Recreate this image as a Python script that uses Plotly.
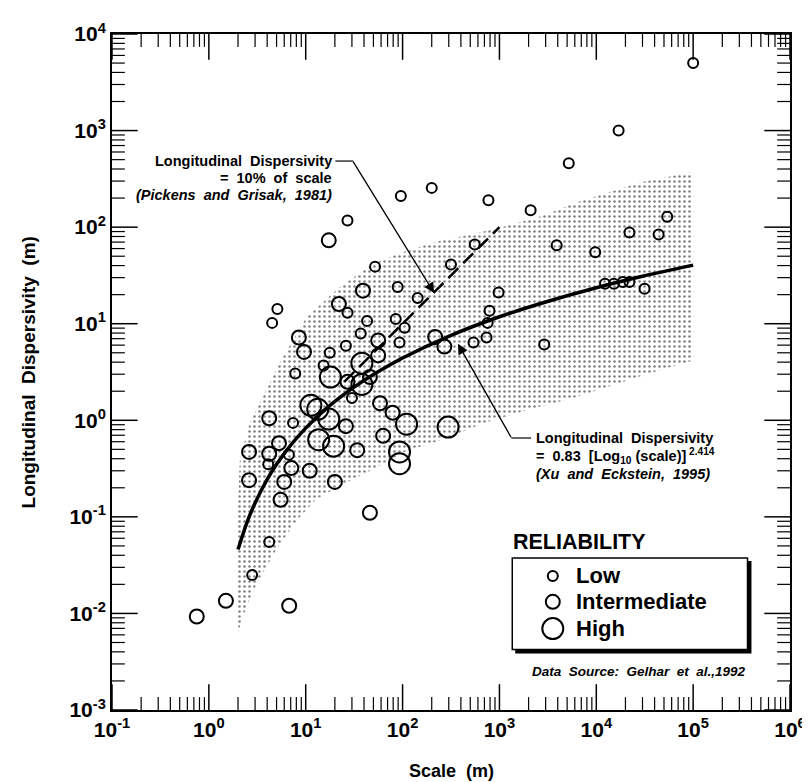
import math
import plotly.graph_objects as go

# ---------------- data ----------------
low_scale = [1e5, 17000, 5200, 2100, 770, 200, 96, 27, 52, 316, 556, 89, 143, 980, 27, 790, 755,
             5.1, 4.5, 43, 85, 105, 37, 93, 17.7, 26, 540, 736, 7.8, 15.3, 30, 7.4, 4.1, 6.7,
             4.2, 2.8, 3900, 9750, 22000, 44000, 54000, 12300, 15200, 18800, 22000, 31500, 2900]
low_disp = [5000, 1000, 460, 150, 190, 255, 210, 117, 39, 41, 66, 24, 18.5, 21, 13, 13.6, 10.2,
            14.2, 10.2, 10.7, 11.2, 9.1, 7.9, 6.4, 5.0, 5.9, 6.4, 7.2, 3.05, 3.7, 1.7, 0.94, 0.35, 0.44,
            0.055, 0.025, 65, 55, 88, 84, 128, 26, 26, 27, 27, 23, 6.1]

mid_scale = [17.3, 39, 22, 8.5, 9.6, 56, 56, 217, 270, 27, 46, 4.2, 58.5, 79, 26, 5.3, 2.6, 4.2,
             34, 63, 7.1, 11, 2.6, 6.0, 20, 5.5, 46, 1.5, 6.75, 0.75]
mid_disp = [73, 22, 16, 7.2, 5.1, 6.7, 4.7, 7.3, 5.8, 2.5, 2.8, 1.05, 1.5, 1.2, 0.87, 0.58, 0.47, 0.45,
            0.49, 0.69, 0.32, 0.30, 0.24, 0.23, 0.23, 0.15, 0.11, 0.0135, 0.012, 0.0093]

high_scale = [38, 18, 38, 11.3, 13.3, 17.3, 110, 295, 13.6, 19.4, 93, 93]
high_disp = [3.9, 2.8, 2.35, 1.43, 1.3, 1.03, 0.91, 0.85, 0.63, 0.54, 0.47, 0.355]

# Xu & Eckstein (1995) curve
xu_scale = [2, 2.5, 3, 4, 5, 7, 10, 15, 20, 30, 50, 100, 300, 1000, 3000, 1e4, 3e4, 1e5]
xu_disp = [0.046, 0.090, 0.139, 0.244, 0.35, 0.553, 0.83, 1.23, 1.57, 2.13, 2.98, 4.42, 7.41,
           11.8, 16.8, 23.6, 31.0, 40.4]

# Pickens & Grisak (1981) 10 % line
pg_scale = [25, 1000]
pg_disp = [2.5, 100]

# stippled envelope: upper edge (left->right) then lower edge (right->left)
env_upper_scale = [1.95, 1.95, 2.09, 2.64, 3.67, 5.34, 10.1, 21.9, 48.5, 105, 229, 508, 1100, 2820,
                   6120, 13600, 29500, 1e5]
env_upper_disp = [0.0059, 0.0745, 0.39, 0.935, 1.82, 3.87, 11.5, 23.4, 41.3, 56, 71, 84, 101, 131,
                  179, 232, 294, 373]
env_lower_scale = [1e5, 34800, 14600, 6120, 1890, 690, 289, 105, 48.5, 21.9, 12.7, 7.96, 4.98, 3.11,
                   2.46, 1.95]
env_lower_disp = [4.16, 3.05, 2.3, 1.73, 1.27, 0.935, 0.656, 0.471, 0.308, 0.206, 0.151, 0.09, 0.046,
                  0.0202, 0.012, 0.0059]

reliability = ["Low", "Intermediate", "High"]
marker_sizes = [10, 14, 21]

x_tickvals = [0.1, 1, 10, 100, 1e3, 1e4, 1e5, 1e6]
x_ticktext = ["<b>10<sup>-1</sup></b>", "<b>10<sup>0</sup></b>", "<b>10<sup>1</sup></b>", "<b>10<sup>2</sup></b>",
              "<b>10<sup>3</sup></b>", "<b>10<sup>4</sup></b>", "<b>10<sup>5</sup></b>", "<b>10<sup>6</sup></b>"]
y_tickvals = [1e-3, 1e-2, 0.1, 1, 10, 100, 1e3, 1e4]
y_ticktext = ["<b>10<sup>-3</sup></b>", "<b>10<sup>-2</sup></b>", "<b>10<sup>-1</sup></b>", "<b>10<sup>0</sup></b>",
              "<b>10<sup>1</sup></b>", "<b>10<sup>2</sup></b>", "<b>10<sup>3</sup></b>", "<b>10<sup>4</sup></b>"]
x_minor = [m * 10.0 ** k for k in range(-1, 6) for m in range(2, 10)]
y_minor = [m * 10.0 ** k for k in range(-3, 4) for m in range(2, 10)]
X_RANGE = [-1, 6]
Y_RANGE = [-3, 4]

# ---------------- layout geometry ----------------
W, H = 810, 782
ML, MR, MT, MB = 104, 20, 21, 80
PW, PH = W - ML - MR, H - MT - MB


def px(x):
    return (x - ML) / PW


def py(y):
    return (H - MB - y) / PH


FONT = "Liberation Sans, Arial, sans-serif"


def f(size):
    return dict(family=FONT, size=size, color="black")


fig = go.Figure()

# envelope
fig.add_trace(go.Scatter(
    x=env_upper_scale + env_lower_scale, y=env_upper_disp + env_lower_disp,
    mode="lines", line=dict(width=0, color="rgba(0,0,0,0)"), fill="toself",
    fillcolor="rgba(255,255,255,0)",
    fillpattern=dict(shape=".", size=5, solidity=0.2, fgcolor="black", bgcolor="rgba(0,0,0,0)"),
    hoverinfo="skip", showlegend=False))

# lines
fig.add_trace(go.Scatter(x=xu_scale, y=xu_disp, mode="lines", line=dict(color="black", width=3.5, shape="spline"),
                         showlegend=False))
fig.add_trace(go.Scatter(x=pg_scale, y=pg_disp, mode="lines", line=dict(color="black", width=2.5, dash="14px,7px"),
                         showlegend=False))

# data points
for xs, ys, s in [(low_scale, low_disp, marker_sizes[0]), (mid_scale, mid_disp, marker_sizes[1]),
                  (high_scale, high_disp, marker_sizes[2])]:
    fig.add_trace(go.Scatter(x=xs, y=ys, mode="markers",
                             marker=dict(symbol="circle-open", size=s, color="black", line=dict(width=2, color="black")),
                             showlegend=False))


def log_axis(vals, text, rng):
    return dict(type="log", range=rng, showgrid=False, zeroline=False, showline=True, linecolor="black",
                linewidth=2, mirror=True, ticks="", tickmode="array", tickvals=vals, ticktext=text,
                tickfont=f(21))


fig.update_layout(
    width=W, height=H, margin=dict(l=ML, r=MR, t=MT, b=MB),
    paper_bgcolor="white", plot_bgcolor="white", showlegend=False,
    xaxis=log_axis(x_tickvals, x_ticktext, X_RANGE),
    yaxis=log_axis(y_tickvals, y_ticktext, Y_RANGE),
)

shapes = []
# inside tick marks on all four sides (major and minor)
MAJ, MINL = 26, 13
for vals, length, width in [(x_tickvals, MAJ, 1.5), (x_minor, MINL, 1.2)]:
    for v in vals:
        xf = (math.log10(v) - X_RANGE[0]) / (X_RANGE[1] - X_RANGE[0])
        for y0, y1 in [(0, length / PH), (1 - length / PH, 1)]:
            shapes.append(dict(type="line", xref="paper", yref="paper", x0=xf, x1=xf, y0=y0, y1=y1,
                               line=dict(width=width, color="black")))
for vals, length, width in [(y_tickvals, MAJ, 1.5), (y_minor, MINL, 1.2)]:
    for v in vals:
        yf = (math.log10(v) - Y_RANGE[0]) / (Y_RANGE[1] - Y_RANGE[0])
        for x0, x1 in [(0, length / PW), (1 - length / PW, 1)]:
            shapes.append(dict(type="line", xref="paper", yref="paper", x0=x0, x1=x1, y0=yf, y1=yf,
                               line=dict(width=width, color="black")))

# legend box with drop shadow
shapes.append(dict(type="rect", xref="paper", yref="paper", x0=px(512), x1=px(751), y0=py(645), y1=py(552),
                   fillcolor="black", line=dict(width=0), layer="below"))
shapes.append(dict(type="rect", xref="paper", yref="paper", x0=px(509), x1=px(747), y0=py(641), y1=py(549),
                   fillcolor="white", line=dict(width=1.5, color="black"), layer="below"))
# legend glyphs (open circles of the three reliability sizes)
leg_y_px = [567, 593, 620]
for i in range(3):
    r = marker_sizes[i] / 2
    shapes.append(dict(type="circle", xref="paper", yref="paper", xsizemode="pixel", ysizemode="pixel",
                       xanchor=px(550), yanchor=py(leg_y_px[i]), x0=-r, x1=r, y0=-r, y1=r,
                       line=dict(width=2, color="black"), fillcolor="rgba(0,0,0,0)"))
# leader stubs
shapes.append(dict(type="line", xref="paper", yref="paper", x0=px(330), x1=px(348), y0=py(149), y1=py(149),
                   line=dict(width=1.2, color="black")))
shapes.append(dict(type="line", xref="paper", yref="paper", x0=px(508), x1=px(528), y0=py(428), y1=py(428),
                   line=dict(width=1.2, color="black")))
fig.update_layout(shapes=shapes)

ann = []
tf = f(14.5)
# Pickens text
ann.append(dict(xref="paper", yref="paper", x=px(329), y=py(149), xanchor="right", yanchor="middle",
                text="<b>Longitudinal  Dispersivity</b>", showarrow=False, font=tf))
ann.append(dict(xref="paper", yref="paper", x=px(329), y=py(166), xanchor="right", yanchor="middle",
                text="<b>=  10%  of  scale</b>", showarrow=False, font=tf))
ann.append(dict(xref="paper", yref="paper", x=px(329), y=py(183), xanchor="right", yanchor="middle",
                text="<b><i>(Pickens  and  Grisak,  1981)</i></b>", showarrow=False, font=tf))
# arrows
ann.append(dict(xref="paper", yref="paper", x=px(430), y=py(282), ax=348 - 430, ay=149 - 282,
                axref="pixel", ayref="pixel", text="", showarrow=True, arrowhead=2, arrowsize=1.6,
                arrowwidth=1.3, arrowcolor="black"))
ann.append(dict(xref="paper", yref="paper", x=px(454), y=py(333), ax=508 - 454, ay=428 - 333,
                axref="pixel", ayref="pixel", text="", showarrow=True, arrowhead=2, arrowsize=1.6,
                arrowwidth=1.3, arrowcolor="black"))
# Xu text
ann.append(dict(xref="paper", yref="paper", x=px(531), y=py(428), xanchor="left", yanchor="middle",
                text="<b>Longitudinal  Dispersivity</b>", showarrow=False, font=tf))
ann.append(dict(xref="paper", yref="paper", x=px(531), y=py(446), xanchor="left", yanchor="middle",
                text="<b>=  0.83  [Log<sub>10</sub> (scale)]<sup> 2.414</sup></b>", showarrow=False, font=tf))
ann.append(dict(xref="paper", yref="paper", x=px(531), y=py(464), xanchor="left", yanchor="middle",
                text="<b><i>(Xu  and  Eckstein,  1995)</i></b>", showarrow=False, font=tf))
# legend texts
ann.append(dict(xref="paper", yref="paper", x=px(508), y=py(533), xanchor="left", yanchor="middle",
                text="<b>RELIABILITY</b>", showarrow=False, font=f(21.5)))
for i, lab in enumerate(reliability):
    ann.append(dict(xref="paper", yref="paper", x=px(571), y=py(leg_y_px[i]), xanchor="left", yanchor="middle",
                    text="<b>" + lab + "</b>", showarrow=False, font=f(22)))
ann.append(dict(xref="paper", yref="paper", x=px(748), y=py(663), xanchor="right", yanchor="middle",
                text="<b><i>Data  Source:  Gelhar  et  al.,1992</i></b>", showarrow=False, font=f(13.5)))
# axis titles
ann.append(dict(xref="paper", yref="paper", x=0.5, y=py(763), xanchor="center", yanchor="middle",
                text="<b>Scale  (m)</b>", showarrow=False, font=f(18)))
ann.append(dict(xref="paper", yref="paper", x=px(20), y=py(362), xanchor="center", yanchor="middle",
                textangle=-90, text="<b>Longitudinal  Dispersivity  (m)</b>", showarrow=False, font=f(19)))
fig.update_layout(annotations=ann)

fig.write_html("out.html")
